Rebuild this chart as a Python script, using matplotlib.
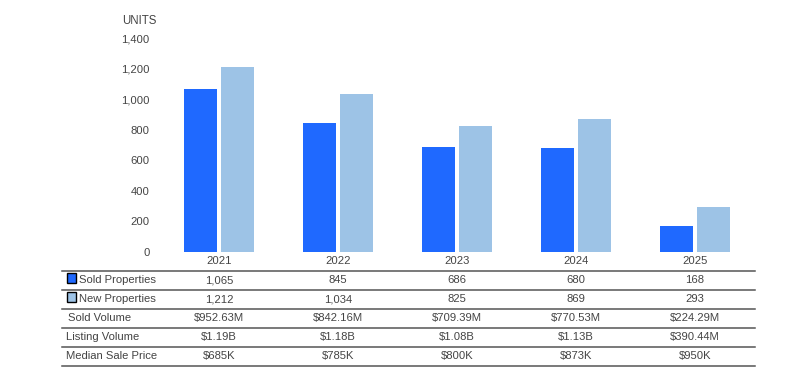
import numpy as np
import matplotlib.pyplot as plt
from matplotlib.transforms import blended_transform_factory
from matplotlib.patches import Rectangle

plt.rcParams['font.family'] = ['Liberation Sans', 'DejaVu Sans']

years = ['2021', '2022', '2023', '2024', '2025']
sold = [1065, 845, 686, 680, 168]
new = [1212, 1034, 825, 869, 293]
sold_volume = ['$952.63M', '$842.16M', '$709.39M', '$770.53M', '$224.29M']
listing_volume = ['$1.19B', '$1.18B', '$1.08B', '$1.13B', '$390.44M']
median_price = ['$685K', '$785K', '$800K', '$873K', '$950K']
yticks = [0, 200, 400, 600, 800, 1000, 1200, 1400]

blue = '#1F69FF'
light = '#9DC3E6'
txt = '#444444'
fs = 8.1

W, H = 811, 383
fig = plt.figure(figsize=(W / 100, H / 100), dpi=100)
ax = fig.add_axes([159.5 / W, (H - 251.7) / H, 595 / W, (251.7 - 38) / H])

x = np.arange(len(years))
bw = 0.277
gap = 0.042
ax.bar(x - (bw + gap) / 2, sold, bw, color=blue)
ax.bar(x + (bw + gap) / 2, new, bw, color=light)

ax.set_xlim(-0.5, len(years) - 0.5)
ax.set_ylim(0, 1400)
ax.set_yticks(yticks)
ax.set_yticklabels([f'{v:,}' for v in yticks], fontsize=fs, color=txt)
ax.tick_params(axis='y', length=0, pad=7)
ax.set_xticks([])
for s in ax.spines.values():
    s.set_visible(False)

fig.text(122.5 / W, 1 - 21 / H, 'UNITS', fontsize=8.3, color=txt, va='center', ha='left')

# table below the chart
tr = blended_transform_factory(ax.transData, fig.transFigure)
def fy(p):
    return 1 - p / H

for i, yr in enumerate(years):
    ax.text(i, fy(261.5), yr, transform=tr, ha='center', va='center', fontsize=fs, color=txt)

line_y = [270.7, 289.6, 308.6, 327.6, 346.7, 365.7]
for ly in line_y:
    fig.add_artist(plt.Line2D([62 / W, 754.5 / W], [fy(ly), fy(ly)], color='#555555', lw=1.1))

rows = [
    ('Sold Properties', [f'{v:,}' for v in sold], blue, 79),
    ('New Properties', [f'{v:,}' for v in new], light, 79),
    ('Sold Volume', sold_volume, None, 68),
    ('Listing Volume', listing_volume, None, 65.5),
    ('Median Sale Price', median_price, None, 65.5),
]
for r, (label, vals, sw, lx) in enumerate(rows):
    cy = (line_y[r] + line_y[r + 1]) / 2
    if sw is not None:
        fig.add_artist(Rectangle((66.5 / W, fy(cy + 2.6)), 9.5 / W, 9.5 / H,
                                 transform=fig.transFigure, facecolor=sw,
                                 edgecolor='black', lw=1))
    fig.text(lx / W, fy(cy), label, fontsize=fs, color=txt, va='center', ha='left')
    for i, v in enumerate(vals):
        ax.text(i, fy(cy), v, transform=tr, ha='center', va='center', fontsize=fs, color=txt)

fig.savefig('out.png', dpi=100)
